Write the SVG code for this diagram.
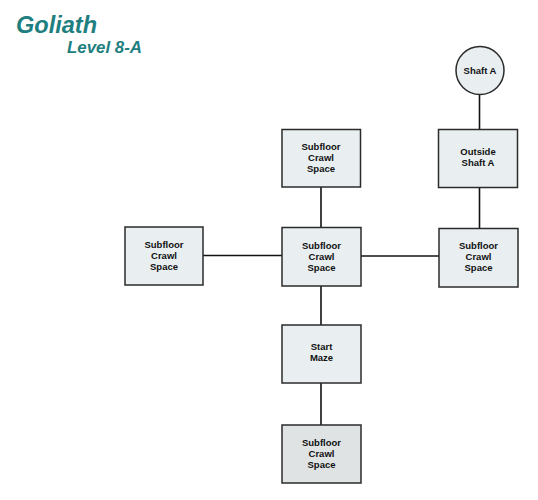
<svg xmlns="http://www.w3.org/2000/svg" width="538" height="500" viewBox="0 0 538 500">
<style>
.box{fill:#e9eff1;stroke:#2b2b2b;stroke-width:1.5}
.box2{fill:#dfe3e4;stroke:#2b2b2b;stroke-width:1.5}
.lbl{font-family:"Liberation Sans",Arial,sans-serif;font-weight:bold;font-size:9.5px;fill:#111;text-anchor:middle}
.con line{stroke:#111;stroke-width:1.6}
.title{font-family:"Liberation Sans",Arial,sans-serif;font-weight:bold;font-style:italic;fill:#1f7f80}
</style>
<rect width="538" height="500" fill="#ffffff"/>
<text class="title" x="16" y="33" font-size="24" textLength="81" lengthAdjust="spacingAndGlyphs">Goliath</text>
<text class="title" x="67" y="53" font-size="17" textLength="75" lengthAdjust="spacingAndGlyphs">Level 8-A</text>
<g class="con">
<line x1="321" y1="187" x2="321" y2="227"/>
<line x1="203" y1="255.5" x2="282" y2="255.5"/>
<line x1="361" y1="256" x2="439" y2="256"/>
<line x1="321" y1="286" x2="321" y2="325"/>
<line x1="321" y1="383" x2="321" y2="425"/>
<line x1="479.5" y1="94.5" x2="479.5" y2="129"/>
<line x1="479.5" y1="188" x2="479.5" y2="228"/>
</g>
<g id="shaftA">
<circle class="box" cx="480" cy="70.5" r="24"/>
<text class="lbl" x="480" y="74">Shaft A</text>
</g>
<g id="outsideShaftA">
<rect class="box" x="438.5" y="129.5" width="79" height="58"/>
<text class="lbl" x="478" y="155">Outside</text>
<text class="lbl" x="478" y="166">Shaft A</text>
</g>
<g id="subfloorTop">
<rect class="box" x="282" y="129.5" width="78.5" height="57.5"/>
<text class="lbl" x="321" y="150">Subfloor</text>
<text class="lbl" x="321" y="161">Crawl</text>
<text class="lbl" x="321" y="172">Space</text>
</g>
<g id="subfloorLeft">
<rect class="box" x="125" y="227" width="78" height="58"/>
<text class="lbl" x="164" y="248">Subfloor</text>
<text class="lbl" x="164" y="259">Crawl</text>
<text class="lbl" x="164" y="270">Space</text>
</g>
<g id="subfloorCenter">
<rect class="box" x="282" y="227.5" width="79" height="58.5"/>
<text class="lbl" x="321.5" y="249">Subfloor</text>
<text class="lbl" x="321.5" y="260">Crawl</text>
<text class="lbl" x="321.5" y="271">Space</text>
</g>
<g id="subfloorRight">
<rect class="box" x="439" y="228.5" width="79" height="58.5"/>
<text class="lbl" x="478.5" y="249">Subfloor</text>
<text class="lbl" x="478.5" y="260">Crawl</text>
<text class="lbl" x="478.5" y="271">Space</text>
</g>
<g id="startMaze">
<rect class="box" x="282" y="325" width="79" height="58"/>
<text class="lbl" x="321.5" y="350">Start</text>
<text class="lbl" x="321.5" y="361">Maze</text>
</g>
<g id="subfloorBottom">
<rect class="box2" x="282" y="425" width="79" height="58"/>
<text class="lbl" x="321.5" y="446">Subfloor</text>
<text class="lbl" x="321.5" y="457">Crawl</text>
<text class="lbl" x="321.5" y="468">Space</text>
</g>
</svg>
